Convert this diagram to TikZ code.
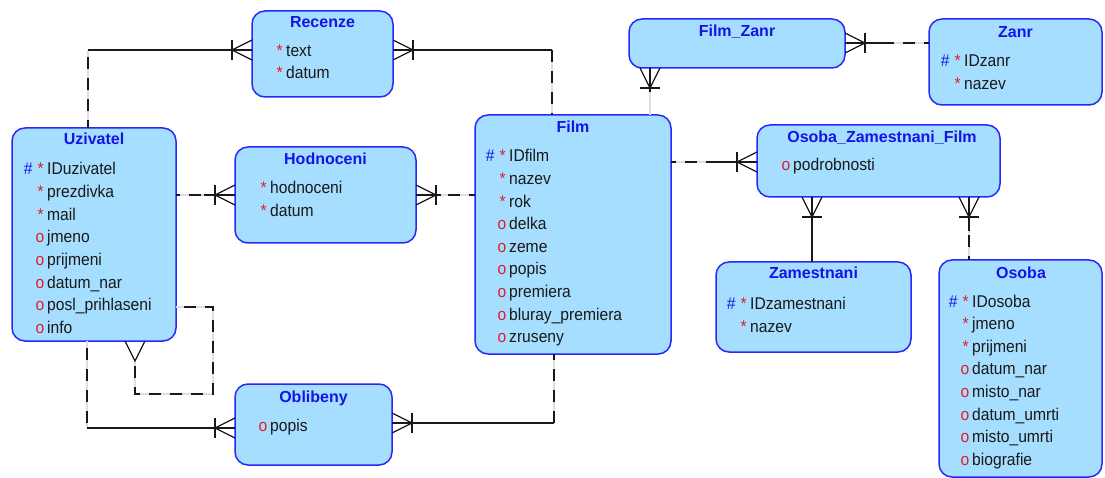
\documentclass[tikz,border=0pt]{standalone}
\usepackage{fontspec}
\setmainfont{Liberation Sans}[FakeStretch=0.92]
\newfontfamily\ttlfont{Liberation Sans}
\usetikzlibrary{calc}
\definecolor{efill}{RGB}{166,222,255}
\definecolor{eborder}{RGB}{40,40,250}
\definecolor{ttlblue}{RGB}{20,20,230}
\definecolor{fred}{RGB}{225,30,40}
\definecolor{ftext}{RGB}{25,25,25}
\newcommand\fpk[3]{\node[fld] (#1) at (#2) {\llap{\textcolor{ttlblue}{\#}\hspace{5pt}\textcolor{fred}{*}\hspace{3.5pt}}#3};}
\newcommand\fm[3]{\node[fld] (#1) at (#2) {\llap{\textcolor{fred}{*}\hspace{3.5pt}}#3};}
\newcommand\fo[3]{\node[fld] (#1) at (#2) {\llap{\textcolor{fred}{o}\hspace{2.8pt}}#3};}
\newcommand\crow[3]{\begin{scope}[shift={(#1)},rotate=#2]
 \draw[sol] (0,10) -- (20,0) -- (0,-10);
 \ifnum#3=1 \draw[sol] (20,10) -- (20,-10);\fi
\end{scope}}
\begin{document}
\begin{tikzpicture}[x=1pt,y=-1pt,
 entity/.style={draw=eborder, fill=efill, line width=1.5pt, rounded corners=13pt, inner sep=0pt, outer sep=0pt, anchor=north west},
 ttl/.style={font=\ttlfont\bfseries\fontsize{16}{18}\selectfont, text=ttlblue, anchor=base, inner sep=0pt},
 fld/.style={font=\fontsize{17}{19}\selectfont, text=ftext, anchor=base west, inner sep=0pt},
 sol/.style={draw=black!90, line width=1.3pt},
 dsh/.style={draw=black!90, line width=1.3pt, dash pattern=on 12pt off 9pt, preaction={draw=black!13, line width=2.6pt, solid}},
 gry/.style={draw=black!13, line width=2.6pt}
]
\useasboundingbox (0,0) rectangle (1105,478);

% entities
\node[entity, minimum width=141pt, minimum height=86pt] (rec) at (252,11) {};
\node[entity, minimum width=164pt, minimum height=213pt] (uz) at (12,128) {};
\node[entity, minimum width=181pt, minimum height=96pt] (hod) at (235,147) {};
\node[entity, minimum width=157pt, minimum height=81pt] (obl) at (235,384) {};
\node[entity, minimum width=196pt, minimum height=239pt] (film) at (475,115) {};
\node[entity, minimum width=216pt, minimum height=49pt] (fz) at (629,19) {};
\node[entity, minimum width=173pt, minimum height=86pt] (zanr) at (929,19) {};
\node[entity, minimum width=243pt, minimum height=72pt] (ozf) at (757,125) {};
\node[entity, minimum width=195pt, minimum height=90pt] (zam) at (716,262) {};
\node[entity, minimum width=163pt, minimum height=217pt] (os) at (939,260) {};

% titles
\node[ttl] (recT) at (322.5,28) {Recenze};
\node[ttl] (uzT) at (94,145) {Uzivatel};
\node[ttl] (hodT) at (325.5,165) {Hodnoceni};
\node[ttl] (oblT) at (313.5,402) {Oblibeny};
\node[ttl] (filmT) at (573,133) {Film};
\node[ttl] (fzT) at (737,37) {Film\_Zanr};
\node[ttl] (zanrT) at (1015.5,38) {Zanr};
\node[ttl] (ozfT) at (882,143) {Osoba\_Zamestnani\_Film};
\node[ttl] (zamT) at (813.5,279) {Zamestnani};
\node[ttl] (osT) at (1021,279) {Osoba};

% fields
\fm{rec1}{286,57}{text}
\fm{rec2}{286,79}{datum}

\fpk{uz1}{47,175}{IDuzivatel}
\fm{uz2}{47,197.6}{prezdivka}
\fm{uz3}{47,220.2}{mail}
\fo{uz4}{47,242.8}{jmeno}
\fo{uz5}{47,265.4}{prijmeni}
\fo{uz6}{47,288}{datum\_nar}
\fo{uz7}{47,310.6}{posl\_prihlaseni}
\fo{uz8}{47,333.2}{info}

\fm{hod1}{270,194}{hodnoceni}
\fm{hod2}{270,217}{datum}

\fo{obl1}{270,431}{popis}

\fpk{film1}{509,162}{IDfilm}
\fm{film2}{509,184.6}{nazev}
\fm{film3}{509,207.2}{rok}
\fo{film4}{509,229.8}{delka}
\fo{film5}{509,252.4}{zeme}
\fo{film6}{509,275}{popis}
\fo{film7}{509,297.6}{premiera}
\fo{film8}{509,320.2}{bluray\_premiera}
\fo{film9}{509,342.8}{zruseny}

\fpk{zanr1}{964,67}{IDzanr}
\fm{zanr2}{964,90}{nazev}

\fo{ozf1}{793,171}{podrobnosti}

\fpk{zam1}{750,309}{IDzamestnani}
\fm{zam2}{750,332}{nazev}

\fpk{os1}{972,307}{IDosoba}
\fm{os2}{972,329.65}{jmeno}
\fm{os3}{972,352.3}{prijmeni}
\fo{os4}{972,374.95}{datum\_nar}
\fo{os5}{972,397.6}{misto\_nar}
\fo{os6}{972,420.25}{datum\_umrti}
\fo{os7}{972,442.9}{misto\_umrti}
\fo{os8}{972,465.55}{biografie}

% C1 Uzivatel - Recenze
\coordinate (c1a) at (88,0 |- uz.north);
\coordinate (c1b) at (88,50);
\coordinate (c1c) at (rec.west |- c1b);
\draw[dsh, dash phase=4pt] (c1a) -- (c1b);
\draw[sol] (c1b) -- (c1c);
\crow{c1c}{180}{1}

% C2 Recenze - Film
\coordinate (c2a) at (rec.east |- c1b);
\coordinate (c2b) at (552,50);
\coordinate (c2c) at (c2b |- film.north);
\draw[sol] (c2a) -- (c2b);
\draw[dsh] (c2b) -- (c2c);
\crow{c2a}{0}{1}

% C3 Uzivatel - Hodnoceni
\coordinate (c3a) at (uz.east |- 0,195);
\coordinate (c3b) at (204,195);
\coordinate (c3c) at (hod.west |- c3b);
\draw[dsh, dash phase=8pt] (c3a) -- (c3b);
\draw[sol] (c3b) -- (c3c);
\crow{c3c}{180}{1}

% C4 Hodnoceni - Film
\coordinate (c4a) at (hod.east |- 0,195);
\coordinate (c4b) at (441,195);
\coordinate (c4c) at (film.west |- c4b);
\draw[sol] (c4a) -- (c4b);
\draw[dsh, dash phase=-7pt] (c4b) -- (c4c);
\crow{c4a}{0}{1}

% C5 Uzivatel - Oblibeny
\coordinate (c5a) at (87,0 |- uz.south);
\coordinate (c5b) at (87,428);
\coordinate (c5c) at (obl.west |- c5b);
\draw[dsh, dash phase=-7pt] (c5a) -- (c5b);
\draw[sol] (c5b) -- (c5c);
\crow{c5c}{180}{1}

% C6 Oblibeny - Film
\coordinate (c6a) at (obl.east |- 0,423);
\coordinate (c6b) at (554,423);
\coordinate (c6c) at (c6b |- film.south);
\draw[sol] (c6a) -- (c6b);
\draw[dsh] (c6b) -- (c6c);
\crow{c6a}{0}{1}

% C7 Uzivatel self relation
\coordinate (c7a) at (uz.east |- 0,307);
\coordinate (c7b) at (213,307);
\coordinate (c7c) at (213,394);
\coordinate (c7d) at (135,394);
\coordinate (c7e) at (135,361);
\coordinate (c7f) at (135,0 |- uz.south);
\draw[dsh, dash phase=-8pt] (c7a) -- (c7b) -- (c7c) -- (c7d) -- (c7e);
\crow{c7f}{-90}{0}

% C8 Film - Film_Zanr
\coordinate (c8a) at (650,0 |- fz.south);
\coordinate (c8b) at (650,92);
\coordinate (c8c) at (c8b |- film.north);
\draw[gry] (c8b) -- (c8c);
\draw[sol] (c8a) -- (c8b);
\crow{c8a}{-90}{1}

% C9 Film_Zanr - Zanr
\coordinate (c9a) at (fz.east |- 0,43);
\coordinate (c9b) at (890,43);
\coordinate (c9c) at (zanr.west |- c9b);
\draw[sol] (c9a) -- (c9b);
\draw[dsh, dash phase=-13pt] (c9b) -- (c9c);
\crow{c9a}{0}{1}

% C10 Film - Osoba_Zamestnani_Film
\coordinate (c10a) at (film.east |- 0,162);
\coordinate (c10b) at (712,162);
\coordinate (c10c) at (ozf.west |- c10b);
\draw[dsh, dash phase=-14pt] (c10a) -- (c10b);
\draw[sol] (c10b) -- (c10c);
\crow{c10c}{180}{1}

% C11 Osoba_Zamestnani_Film - Zamestnani
\coordinate (c11a) at (812,0 |- ozf.south);
\coordinate (c11b) at (c11a |- zam.north);
\draw[sol] (c11a) -- (c11b);
\crow{c11a}{-90}{1}

% C12 Osoba_Zamestnani_Film - Osoba
\coordinate (c12a) at (969,0 |- ozf.south);
\coordinate (c12b) at (969,231);
\coordinate (c12c) at (c12b |- os.north);
\draw[sol] (c12a) -- (c12b);
\draw[dsh, dash phase=-4pt] (c12b) -- (c12c);
\crow{c12a}{-90}{1}
\end{tikzpicture}
\end{document}
